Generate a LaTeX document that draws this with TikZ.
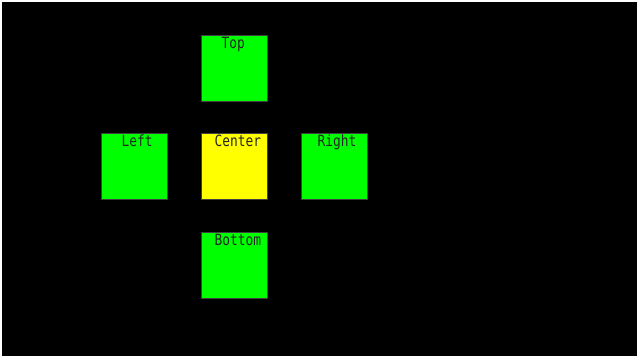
\documentclass[tikz,border=0pt]{standalone}
\usepackage{fontspec}
\newfontfamily\boxfont[FakeStretch=0.83]{DejaVu Sans Mono}
\definecolor{gfill}{RGB}{0,255,0}
\definecolor{yfill}{RGB}{255,255,0}
\begin{document}
\begin{tikzpicture}[x=1pt,y=-1pt,
  cell/.style={draw=black!75,line width=0.8pt,minimum width=66pt,minimum height=66pt,inner sep=0pt,anchor=north west},
  greencell/.style={cell,fill=gfill},
  yellowcell/.style={cell,fill=yfill},
  lbl/.style={font=\boxfont\fontsize{15.5pt}{16pt}\selectfont,text=black!85,inner sep=0pt,anchor=base west}]
\useasboundingbox (0,0) rectangle (638,360);
\fill[white] (0,0) rectangle (638,360);
\fill[black] (2,2) rectangle (637,356);
\node[greencell] (top) at (201,34.5) {};
\node[greencell] (left) at (101,133) {};
\node[yellowcell] (center) at (201,133) {};
\node[greencell] (right) at (301,133) {};
\node[greencell] (bottom) at (201,231.7) {};
\node[lbl] (ttop) at (221.5,48) {Top};
\node[lbl] (tleft) at (121.5,146.8) {Left};
\node[lbl] (tcenter) at (214.5,146.8) {Center};
\node[lbl] (tright) at (317.5,146.8) {Right};
\node[lbl] (tbottom) at (214.5,245.5) {Bottom};
\end{tikzpicture}
\end{document}
